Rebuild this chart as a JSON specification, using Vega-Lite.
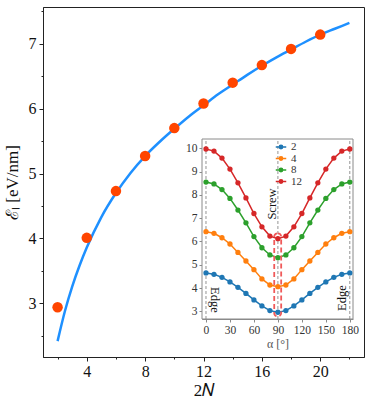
{
  "$schema": "https://vega.github.io/schema/vega-lite/v6.json",
  "width": 321,
  "height": 350,
  "autosize": "none",
  "padding": {"left": 43, "top": 7, "right": 9, "bottom": 50},
  "background": "white",
  "config": {
    "font": "Liberation Serif, Times New Roman, serif",
    "view": {"stroke": "#222", "strokeWidth": 1},
    "axis": {"grid": false, "labelFont": "Liberation Serif, Times New Roman, serif", "titleFont": "Liberation Serif, Times New Roman, serif", "titleFontWeight": "normal"},
    "legend": {"labelFont": "Liberation Serif, Times New Roman, serif"}
  },
  "resolve": {"scale": {"x": "independent", "y": "independent"}, "axis": {"x": "independent", "y": "independent"}},
  "layer": [
    {
      "data": {"values": [
        {"n": 2, "e": 2.42}, {"n": 2.5, "e": 2.88}, {"n": 3, "e": 3.26}, {"n": 3.5, "e": 3.58},
        {"n": 4, "e": 3.86}, {"n": 5, "e": 4.33}, {"n": 6, "e": 4.70}, {"n": 7, "e": 5.01},
        {"n": 8, "e": 5.27}, {"n": 9, "e": 5.49}, {"n": 10, "e": 5.69}, {"n": 11, "e": 5.88},
        {"n": 12, "e": 6.05}, {"n": 13, "e": 6.22}, {"n": 14, "e": 6.37}, {"n": 15, "e": 6.52},
        {"n": 16, "e": 6.66}, {"n": 17, "e": 6.79}, {"n": 18, "e": 6.91}, {"n": 19, "e": 7.03},
        {"n": 20, "e": 7.14}, {"n": 21, "e": 7.23}, {"n": 22, "e": 7.32}
      ]},
      "mark": {"type": "line", "color": "#1E90FF", "strokeWidth": 2.5, "interpolate": "monotone"},
      "encoding": {
        "x": {"field": "n", "type": "quantitative", "scale": {"domain": [1, 23], "nice": false, "zero": false},
          "axis": {"orient": "bottom", "values": [4, 8, 12, 16, 20], "title": "2𝑁", "labelFontSize": 16, "titleFontSize": 17,
            "labelColor": "#111", "titleColor": "#111", "domainColor": "#222", "tickColor": "#222", "tickSize": 4, "labelPadding": 2, "titlePadding": 3}},
        "y": {"field": "e", "type": "quantitative", "scale": {"domain": [2.175, 7.565], "nice": false, "zero": false},
          "axis": {"orient": "left", "values": [3, 4, 5, 6, 7], "title": "ℰₗ [eV/nm]", "labelFontSize": 16, "titleFontSize": 17,
            "labelColor": "#111", "titleColor": "#111", "domainColor": "#222", "tickColor": "#222", "tickSize": 4, "labelPadding": 3, "titlePadding": 7}}
      }
    },
    {
      "data": {"values": [
        {"n": 2, "e": 2.94}, {"n": 4, "e": 4.01}, {"n": 6, "e": 4.73}, {"n": 8, "e": 5.27}, {"n": 10, "e": 5.70},
        {"n": 12, "e": 6.08}, {"n": 14, "e": 6.40}, {"n": 16, "e": 6.67}, {"n": 18, "e": 6.92}, {"n": 20, "e": 7.14}
      ]},
      "mark": {"type": "circle", "color": "#FF4500", "size": 110, "opacity": 1},
      "encoding": {
        "x": {"field": "n", "type": "quantitative", "scale": {"domain": [1, 23], "nice": false, "zero": false},
          "axis": {"orient": "bottom", "values": [2, 6, 10, 14, 18, 22], "labels": false, "title": null, "domain": false, "tickSize": 2, "tickColor": "#222"}},
        "y": {"field": "e", "type": "quantitative", "scale": {"domain": [2.175, 7.565], "nice": false, "zero": false},
          "axis": {"orient": "left", "values": [2.5, 3.5, 4.5, 5.5, 6.5, 7.5], "labels": false, "title": null, "domain": false, "tickSize": 2, "tickColor": "#222"}}
      }
    },
    {
      "resolve": {"scale": {"x": "shared", "y": "shared"}},
      "layer": [
        {
          "data": {"values": [{"frame": 1}]},
          "mark": {"type": "rect", "fill": "white", "stroke": "#8a8a8a", "strokeWidth": 1},
          "encoding": {
            "x": {"datum": -5, "type": "quantitative", "scale": {"domain": [-5, 184], "range": [159, 310], "nice": false, "zero": false},
              "axis": {"orient": "bottom", "offset": -38, "values": [0, 30, 60, 90, 120, 150, 180], "title": "α [°]", "labelFontSize": 11.5, "titleFontSize": 12,
                "labelColor": "#333", "titleColor": "#555", "domainColor": "#8a8a8a", "tickColor": "#8a8a8a", "tickSize": 3, "labelPadding": 2, "titlePadding": 3}},
            "x2": {"datum": 184},
            "y": {"datum": 2.67, "type": "quantitative", "scale": {"domain": [2.67, 10.4], "range": [312, 132], "nice": false, "zero": false},
              "axis": {"orient": "left", "offset": -159, "values": [3, 4, 5, 6, 7, 8, 9, 10], "title": null, "labelFontSize": 11.5,
                "labelColor": "#333", "domainColor": "#8a8a8a", "tickColor": "#8a8a8a", "tickSize": 3, "labelPadding": 2}},
            "y2": {"datum": 10.4}
          }
        },
        {
          "data": {"values": [{"alpha": 0}, {"alpha": 90}, {"alpha": 180}]},
          "mark": {"type": "rule", "color": "#888", "strokeDash": [3, 2], "strokeWidth": 0.9},
          "encoding": {
            "x": {"field": "alpha", "type": "quantitative", "title": "α [°]", "scale": {"domain": [-5, 184], "range": [159, 310], "nice": false, "zero": false}},
            "y": {"datum": 2.67, "type": "quantitative", "title": null, "scale": {"domain": [2.67, 10.4], "range": [312, 132], "nice": false, "zero": false}},
            "y2": {"datum": 10.4}
          }
        },
        {
          "data": {"values": [
            {"alpha": 0, "energy": 4.65, "N": "2"}, {"alpha": 10, "energy": 4.59, "N": "2"}, {"alpha": 20, "energy": 4.46, "N": "2"}, {"alpha": 30, "energy": 4.26, "N": "2"},
            {"alpha": 40, "energy": 4.03, "N": "2"}, {"alpha": 50, "energy": 3.77, "N": "2"}, {"alpha": 60, "energy": 3.49, "N": "2"}, {"alpha": 70, "energy": 3.23, "N": "2"},
            {"alpha": 80, "energy": 3.03, "N": "2"}, {"alpha": 90, "energy": 2.96, "N": "2"}, {"alpha": 100, "energy": 3.03, "N": "2"}, {"alpha": 110, "energy": 3.23, "N": "2"},
            {"alpha": 120, "energy": 3.49, "N": "2"}, {"alpha": 130, "energy": 3.77, "N": "2"}, {"alpha": 140, "energy": 4.03, "N": "2"}, {"alpha": 150, "energy": 4.26, "N": "2"},
            {"alpha": 160, "energy": 4.46, "N": "2"}, {"alpha": 170, "energy": 4.59, "N": "2"}, {"alpha": 180, "energy": 4.65, "N": "2"},
            {"alpha": 0, "energy": 6.42, "N": "4"}, {"alpha": 10, "energy": 6.35, "N": "4"}, {"alpha": 20, "energy": 6.16, "N": "4"}, {"alpha": 30, "energy": 5.89, "N": "4"},
            {"alpha": 40, "energy": 5.53, "N": "4"}, {"alpha": 50, "energy": 5.16, "N": "4"}, {"alpha": 60, "energy": 4.79, "N": "4"}, {"alpha": 70, "energy": 4.39, "N": "4"},
            {"alpha": 80, "energy": 4.13, "N": "4"}, {"alpha": 90, "energy": 4.06, "N": "4"}, {"alpha": 100, "energy": 4.13, "N": "4"}, {"alpha": 110, "energy": 4.39, "N": "4"},
            {"alpha": 120, "energy": 4.79, "N": "4"}, {"alpha": 130, "energy": 5.16, "N": "4"}, {"alpha": 140, "energy": 5.53, "N": "4"}, {"alpha": 150, "energy": 5.89, "N": "4"},
            {"alpha": 160, "energy": 6.16, "N": "4"}, {"alpha": 170, "energy": 6.35, "N": "4"}, {"alpha": 180, "energy": 6.42, "N": "4"},
            {"alpha": 0, "energy": 8.55, "N": "8"}, {"alpha": 10, "energy": 8.47, "N": "8"}, {"alpha": 20, "energy": 8.23, "N": "8"}, {"alpha": 30, "energy": 7.85, "N": "8"},
            {"alpha": 40, "energy": 7.35, "N": "8"}, {"alpha": 50, "energy": 6.80, "N": "8"}, {"alpha": 60, "energy": 6.21, "N": "8"}, {"alpha": 70, "energy": 5.73, "N": "8"},
            {"alpha": 80, "energy": 5.42, "N": "8"}, {"alpha": 90, "energy": 5.30, "N": "8"}, {"alpha": 100, "energy": 5.42, "N": "8"}, {"alpha": 110, "energy": 5.73, "N": "8"},
            {"alpha": 120, "energy": 6.21, "N": "8"}, {"alpha": 130, "energy": 6.80, "N": "8"}, {"alpha": 140, "energy": 7.35, "N": "8"}, {"alpha": 150, "energy": 7.85, "N": "8"},
            {"alpha": 160, "energy": 8.23, "N": "8"}, {"alpha": 170, "energy": 8.47, "N": "8"}, {"alpha": 180, "energy": 8.55, "N": "8"},
            {"alpha": 0, "energy": 9.97, "N": "12"}, {"alpha": 10, "energy": 9.88, "N": "12"}, {"alpha": 20, "energy": 9.58, "N": "12"}, {"alpha": 30, "energy": 9.11, "N": "12"},
            {"alpha": 40, "energy": 8.52, "N": "12"}, {"alpha": 50, "energy": 7.87, "N": "12"}, {"alpha": 60, "energy": 7.20, "N": "12"}, {"alpha": 70, "energy": 6.63, "N": "12"},
            {"alpha": 80, "energy": 6.23, "N": "12"}, {"alpha": 90, "energy": 6.12, "N": "12"}, {"alpha": 100, "energy": 6.23, "N": "12"}, {"alpha": 110, "energy": 6.63, "N": "12"},
            {"alpha": 120, "energy": 7.20, "N": "12"}, {"alpha": 130, "energy": 7.87, "N": "12"}, {"alpha": 140, "energy": 8.52, "N": "12"}, {"alpha": 150, "energy": 9.11, "N": "12"},
            {"alpha": 160, "energy": 9.58, "N": "12"}, {"alpha": 170, "energy": 9.88, "N": "12"}, {"alpha": 180, "energy": 9.97, "N": "12"}
          ]},
          "mark": {"type": "line", "strokeWidth": 1.5, "point": {"filled": true, "size": 28, "opacity": 1}},
          "encoding": {
            "x": {"field": "alpha", "type": "quantitative", "title": "α [°]", "scale": {"domain": [-5, 184], "range": [159, 310], "nice": false, "zero": false}},
            "y": {"field": "energy", "type": "quantitative", "title": null, "scale": {"domain": [2.67, 10.4], "range": [312, 132], "nice": false, "zero": false}},
            "color": {"field": "N", "type": "nominal",
              "scale": {"domain": ["2", "4", "8", "12"], "range": ["#1f77b4", "#ff7f0e", "#2ca02c", "#d62728"]},
              "legend": {"title": null, "orient": "none", "legendX": 232, "legendY": 134, "padding": 0,
                "symbolType": "M -1 0 L 1 0 M 0.32 0 A 0.32 0.32 0 1 1 -0.32 0 A 0.32 0.32 0 1 1 0.32 0",
                "symbolSize": 110, "symbolStrokeWidth": 1.5, "labelFontSize": 11, "labelColor": "#333", "rowPadding": 0.5, "labelOffset": 4,
                "encode": {"symbols": {"update": {"fill": {"scale": "color", "field": "value"}, "fillOpacity": {"value": 1}, "stroke": {"scale": "color", "field": "value"}}}}}},
            "order": {"field": "alpha"}
          }
        },
        {
          "data": {"values": [{"a0": 85.4, "a1": 94.1, "v0": 2.78, "v1": 6.35}]},
          "mark": {"type": "rect", "fill": "transparent", "stroke": "#f05a5a", "strokeWidth": 1.8, "strokeDash": [5, 3], "cornerRadius": 4},
          "encoding": {
            "x": {"field": "a0", "type": "quantitative", "title": "α [°]", "scale": {"domain": [-5, 184], "range": [159, 310], "nice": false, "zero": false}},
            "x2": {"field": "a1"},
            "y": {"field": "v0", "type": "quantitative", "title": null, "scale": {"domain": [2.67, 10.4], "range": [312, 132], "nice": false, "zero": false}},
            "y2": {"field": "v1"}
          }
        },
        {
          "data": {"values": [{"label": "Edge", "alpha": 11.3, "v": 3.49}]},
          "mark": {"type": "text", "angle": 90, "fontSize": 12.5, "font": "Liberation Serif, Times New Roman, serif", "color": "#111", "align": "center", "baseline": "middle"},
          "encoding": {
            "x": {"field": "alpha", "type": "quantitative", "title": "α [°]", "scale": {"domain": [-5, 184], "range": [159, 310], "nice": false, "zero": false}},
            "y": {"field": "v", "type": "quantitative", "title": null, "scale": {"domain": [2.67, 10.4], "range": [312, 132], "nice": false, "zero": false}},
            "text": {"field": "label"}
          }
        },
        {
          "data": {"values": [{"label": "Edge", "alpha": 170.6, "v": 3.57}, {"label": "Screw", "alpha": 83, "v": 7.61}]},
          "mark": {"type": "text", "angle": 270, "fontSize": 12.5, "font": "Liberation Serif, Times New Roman, serif", "color": "#111", "align": "center", "baseline": "middle"},
          "encoding": {
            "x": {"field": "alpha", "type": "quantitative", "title": "α [°]", "scale": {"domain": [-5, 184], "range": [159, 310], "nice": false, "zero": false}},
            "y": {"field": "v", "type": "quantitative", "title": null, "scale": {"domain": [2.67, 10.4], "range": [312, 132], "nice": false, "zero": false}},
            "text": {"field": "label"}
          }
        }
      ]
    }
  ]
}
